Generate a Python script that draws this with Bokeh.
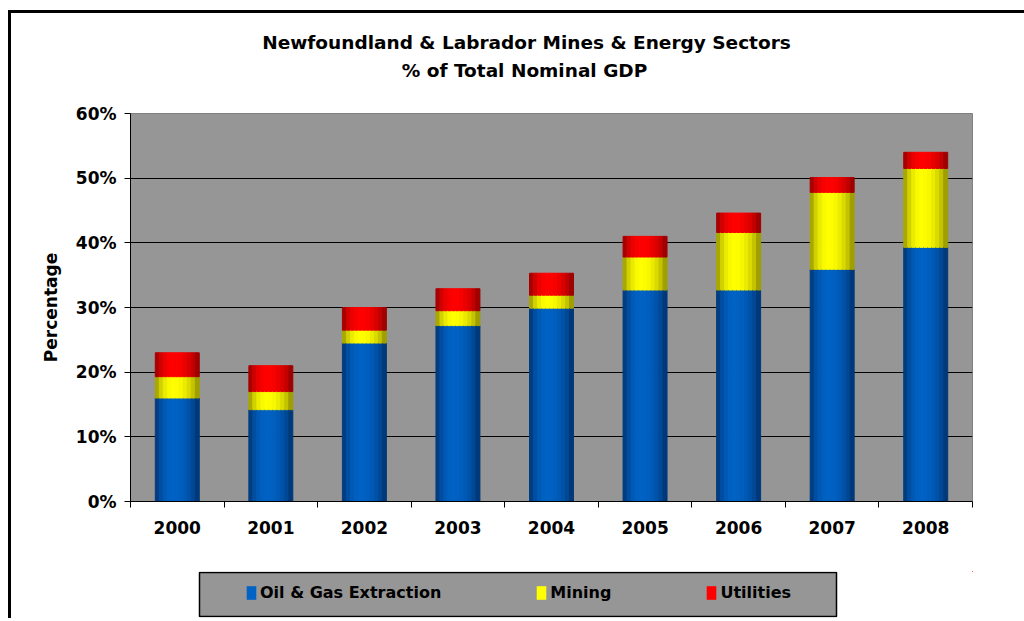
import numpy as np
from bokeh.plotting import figure
from bokeh.layouts import column
from bokeh.models import (Range1d, FixedTicker, CustomJSTickFormatter, PrintfTickFormatter,
                          ColumnDataSource, Legend, LegendItem, Label, BoxAnnotation)
from bokeh.transform import dodge
from bokeh.embed import file_html
from bokeh.resources import INLINE

# ---------------- data ----------------
years = ["2000", "2001", "2002", "2003", "2004", "2005", "2006", "2007", "2008"]
oil_gas = [16.0, 14.2, 24.5, 27.2, 29.9, 32.7, 32.7, 35.9, 39.3]
mining = [3.3, 2.8, 2.0, 2.3, 2.0, 5.1, 8.9, 11.9, 12.2]
utilities = [3.7, 4.0, 3.5, 3.4, 3.4, 3.2, 3.0, 2.3, 2.5]
series_labels = ["Oil & Gas Extraction", "Mining", "Utilities"]
title_lines = ["Newfoundland & Labrador Mines & Energy Sectors", "% of Total Nominal GDP"]
y_ticks = [0, 10, 20, 30, 40, 50, 60]
y_axis_title = "Percentage"

# ---------------- styling ----------------
FONT = "DejaVu Sans"
PLOT_BG = "#969696"
W = 1013
BL, BR = 119, 52          # common left/right borders -> frame x 130..972 on the page

src = ColumnDataSource(dict(
    x=(np.arange(len(years)) + 0.5).tolist(),
    oil=oil_gas, mining=mining, utilities=utilities,
))
stack_cols = ["oil", "mining", "utilities"]


def blank_fig(height, top, bottom, x_range, y_range):
    f = figure(width=W, height=height, x_range=x_range, y_range=y_range,
               x_axis_type=None, y_axis_type=None, output_backend="svg",
               toolbar_location=None, min_border_left=BL, min_border_right=BR,
               min_border_top=top, min_border_bottom=bottom)
    f.outline_line_color = None
    f.background_fill_color = "white"
    f.border_fill_color = "white"
    return f


# ---------- header with the two-line title ----------
p0 = blank_fig(88, 0, 0, Range1d(0, 1), Range1d(0, 1))
title_pos = [(396, 59), (394, 31)]
for line, (tx, ty) in zip(title_lines, title_pos):
    p0.add_layout(Label(x=tx, y=ty, x_units="screen", y_units="screen",
                        text=line, text_align="center", text_baseline="middle",
                        text_font=FONT, text_font_style="bold", text_font_size="18.5px",
                        text_color="black"))

# ---------- main chart ----------
p = figure(width=W, height=459,
           x_range=Range1d(0, len(years)), y_range=Range1d(0, y_ticks[-1]),
           output_backend="svg", toolbar_location=None,
           min_border_left=BL, min_border_right=BR,
           min_border_top=12, min_border_bottom=59)
p.background_fill_color = PLOT_BG
p.border_fill_color = "white"
p.outline_line_color = "#808080"
p.outline_line_width = 1

# cylinder-like shaded bars built from narrow strips
n_strips = 11
bar_w = 0.47
dark = [(0, 38, 88), (115, 115, 0), (115, 0, 0)]
bright = [(0, 98, 196), (255, 255, 0), (255, 0, 0)]


def mix(c0, c1, f):
    return "#%02x%02x%02x" % tuple(int(round(a + (b - a) * f)) for a, b in zip(c0, c1))


def shade(t):
    tp = t * 0.5 / 0.42 if t < 0.42 else 0.5 + (t - 0.42) * 0.5 / 0.58
    return float(np.sin(np.pi * tp) ** 0.55)


for k in range(n_strips):
    t = (k + 0.5) / n_strips
    f = shade(t)
    cols = [mix(d, b, f) for d, b in zip(dark, bright)]
    off = -bar_w / 2 + t * bar_w
    p.vbar_stack(stack_cols, x=dodge("x", off), width=bar_w / n_strips,
                 color=cols, line_width=1, source=src)

yax = p.yaxis[0]
yax.ticker = FixedTicker(ticks=y_ticks)
yax.formatter = PrintfTickFormatter(format="%d%%")
yax.axis_label = y_axis_title
yax.axis_label_text_font = FONT
yax.axis_label_text_font_style = "bold"
yax.axis_label_text_font_size = "17px"
yax.axis_label_text_color = "black"
yax.axis_label_standoff = 12
yax.major_label_text_font = FONT
yax.major_label_text_font_style = "bold"
yax.major_label_text_font_size = "17px"
yax.major_label_text_color = "black"
yax.major_label_standoff = 8
yax.major_tick_out = 6
yax.major_tick_in = 0
yax.minor_tick_line_color = None
yax.axis_line_color = "black"
yax.major_tick_line_color = "black"

xax = p.xaxis[0]
xax.ticker = FixedTicker(ticks=src.data["x"], minor_ticks=list(range(len(years) + 1)))
xax.formatter = CustomJSTickFormatter(args=dict(labels=years), code="""
    const i = Math.round(tick - 0.5);
    return (i >= 0 && i < labels.length) ? labels[i] : '';
""")
xax.major_tick_line_color = None
xax.major_tick_out = 0
xax.major_tick_in = 0
xax.minor_tick_out = 6
xax.minor_tick_in = 0
xax.minor_tick_line_color = "black"
xax.axis_line_color = "black"
xax.major_label_text_font = FONT
xax.major_label_text_font_style = "bold"
xax.major_label_text_font_size = "17px"
xax.major_label_text_color = "black"
xax.major_label_standoff = 13

p.xgrid.visible = False
p.ygrid.grid_line_color = "black"
p.ygrid.grid_line_width = 1

# ---------- legend panel ----------
# the legend's own renderers share the chart data but the panel's ranges keep them out of view
p2 = blank_fig(58, 11, 1, Range1d(-100, -99), Range1d(-100, -99))
p2.add_layout(BoxAnnotation(left=69, right=706, top=45, bottom=1,
                            left_units="screen", right_units="screen",
                            top_units="screen", bottom_units="screen",
                            fill_color=PLOT_BG, fill_alpha=1.0,
                            line_color="black", line_width=1.5, line_alpha=1.0))
legend_rs = p2.vbar_stack(stack_cols, x="x", width=bar_w,
                          fill_color=[mix(b, b, 1) for b in bright], line_color=None,
                          source=src)
legend = Legend(items=[LegendItem(label=lbl, renderers=[r])
                       for lbl, r in zip(series_labels, legend_rs)],
                location=(115, 15), orientation="horizontal",
                padding=0, margin=0, spacing=94,
                glyph_width=12, glyph_height=17, label_standoff=3,
                label_text_font=FONT, label_text_font_style="bold",
                label_text_font_size="16px", label_text_color="black",
                background_fill_alpha=0, border_line_alpha=0)
p2.add_layout(legend)

layout = column(p0, p, p2, spacing=0,
                styles={"margin-left": "8px", "margin-top": "10px",
                        "border-left": "3px solid black", "border-top": "3px solid black"})

open("out.html", "w").write(file_html(layout, INLINE))
